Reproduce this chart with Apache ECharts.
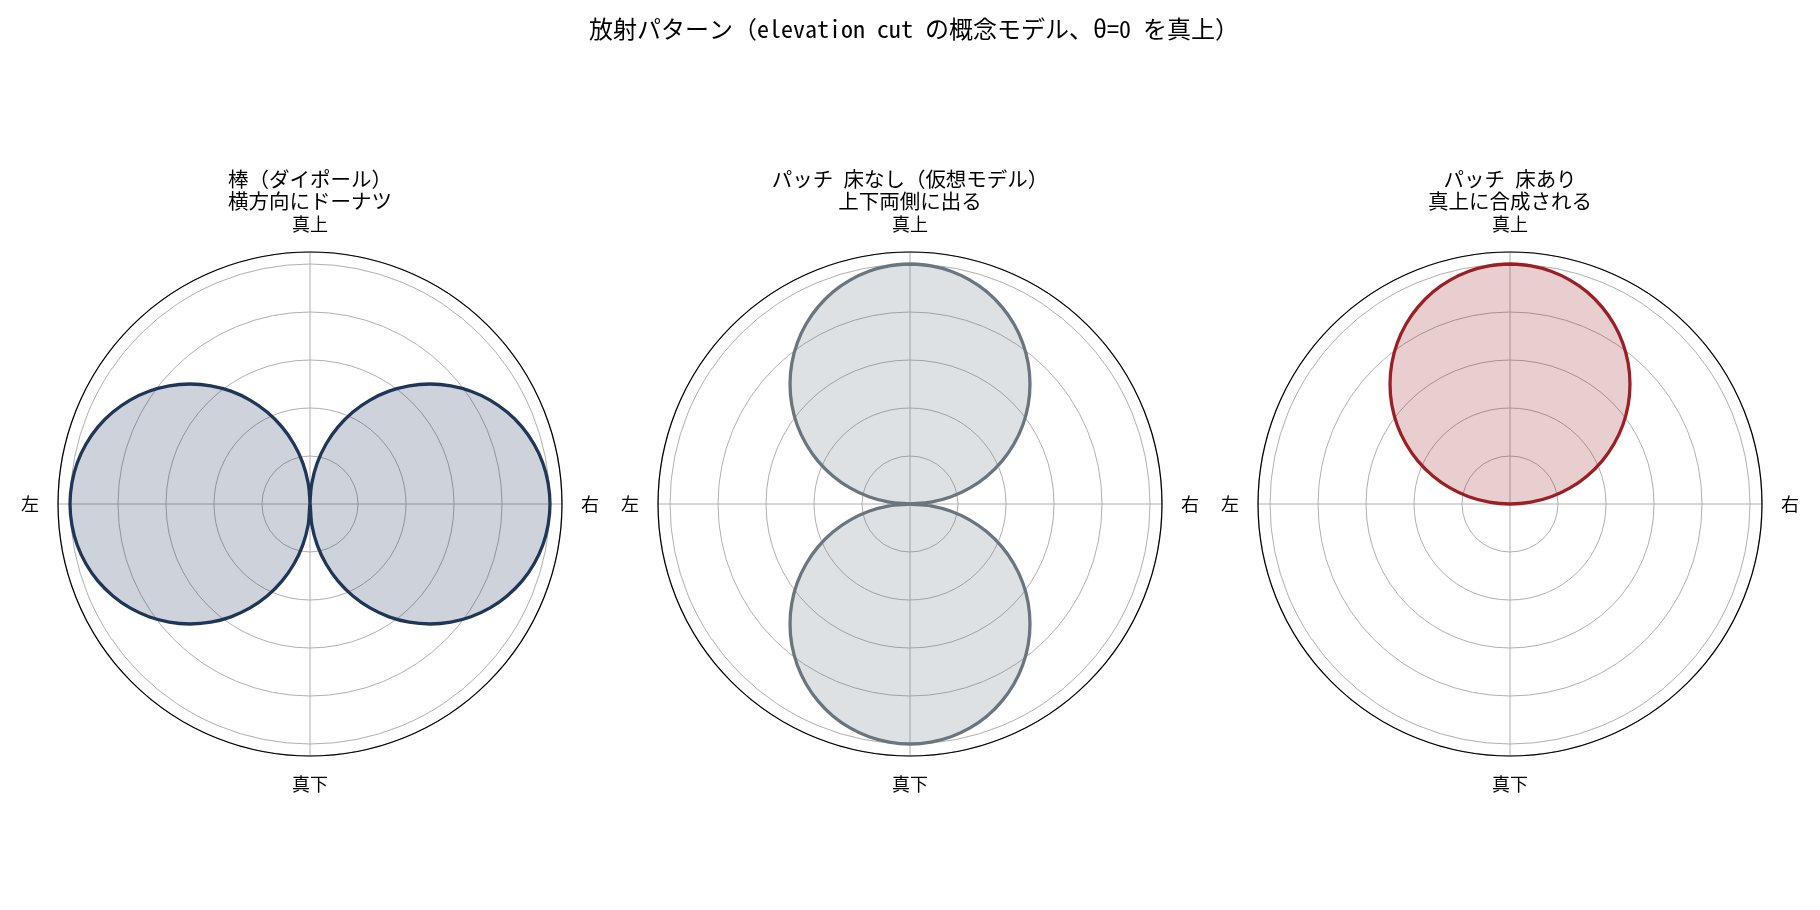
<!DOCTYPE html>
<html>
<head>
<meta charset="utf-8">
<script src="https://cdn.jsdelivr.net/npm/echarts@6/dist/echarts.min.js"></script>
<style>
html,body{margin:0;padding:0;background:#fff;}
#chart{width:1820px;height:910px;}
</style>
</head>
<body>
<div id="chart"></div>
<script>
// ---- data ----
const mainTitle = '放射パターン（elevation cut の概念モデル、θ=0 を真上）';
const panelTitles = [
  '棒（ダイポール）\n横方向にドーナツ',
  'パッチ 床なし（仮想モデル）\n上下両側に出る',
  'パッチ 床あり\n真上に合成される'
];
const angleTickValues = [0, 90, 180, 270];
const angleTickLabels = ['真上', '右', '真下', '左'];

// angles in degrees (θ=0 is straight up, clockwise)
const angles = [
  0,5,10,15,20,25,30,35,40,45,50,55,60,65,70,75,80,85,90,
  95,100,105,110,115,120,125,130,135,140,145,150,155,160,165,170,175,180,
  185,190,195,200,205,210,215,220,225,230,235,240,245,250,255,260,265,270,
  275,280,285,290,295,300,305,310,315,320,325,330,335,340,345,350,355,360
];
// relative gain (radius) per angle
const dipole = [
  0,.087,.174,.259,.342,.423,.5,.574,.643,.707,.766,.819,.866,.906,.94,.966,.985,.996,1,
  .996,.985,.966,.94,.906,.866,.819,.766,.707,.643,.574,.5,.423,.342,.259,.174,.087,0,
  .087,.174,.259,.342,.423,.5,.574,.643,.707,.766,.819,.866,.906,.94,.966,.985,.996,1,
  .996,.985,.966,.94,.906,.866,.819,.766,.707,.643,.574,.5,.423,.342,.259,.174,.087,0
];
const patchNoFloor = [
  1,.996,.985,.966,.94,.906,.866,.819,.766,.707,.643,.574,.5,.423,.342,.259,.174,.087,0,
  .087,.174,.259,.342,.423,.5,.574,.643,.707,.766,.819,.866,.906,.94,.966,.985,.996,1,
  .996,.985,.966,.94,.906,.866,.819,.766,.707,.643,.574,.5,.423,.342,.259,.174,.087,0,
  .087,.174,.259,.342,.423,.5,.574,.643,.707,.766,.819,.866,.906,.94,.966,.985,.996,1
];
const patchWithFloor = [
  1,.996,.985,.966,.94,.906,.866,.819,.766,.707,.643,.574,.5,.423,.342,.259,.174,.087,0,
  0,0,0,0,0,0,0,0,0,0,0,0,0,0,0,0,0,0,
  0,0,0,0,0,0,0,0,0,0,0,0,0,0,0,0,0,0,
  .087,.174,.259,.342,.423,.5,.574,.643,.707,.766,.819,.866,.906,.94,.966,.985,.996,1
];
const seriesValues = [dipole, patchNoFloor, patchWithFloor];

// ---- styles ----
const FONT = '"Noto Sans Mono CJK JP", "Noto Sans CJK JP", "DejaVu Sans Mono", sans-serif';
const lineColors = ['#1f3659', '#6b757e', '#9c1f25'];
const fillColors = ['rgba(31,54,89,0.22)', 'rgba(107,117,126,0.22)', 'rgba(156,31,37,0.22)'];
const centersX = [310, 910, 1510];
const centerY = 504;
const radius = 252;

const chart = echarts.init(document.getElementById('chart'));

const polar = [], angleAxis = [], radiusAxis = [], series = [], graphic = [];

graphic.push({
  type: 'text', x: 914, y: 29,
  style: { text: mainTitle, font: '24px ' + FONT, fill: '#000', align: 'center', verticalAlign: 'middle' }
});

for (let i = 0; i < 3; i++) {
  polar.push({ center: [centersX[i], centerY], radius: radius });
  angleAxis.push({
    polarIndex: i, type: 'value', min: 0, max: 360, interval: 90,
    startAngle: 90, clockwise: true,
    axisLine: { show: true, lineStyle: { color: '#000', width: 1.2 } },
    axisTick: { show: false },
    axisLabel: {
      show: true, margin: 19, fontSize: 18, color: '#000', fontFamily: FONT,
      formatter: function (v) {
        const k = angleTickValues.indexOf(v);
        return k >= 0 ? angleTickLabels[k] : '';
      }
    },
    splitLine: { show: true, lineStyle: { color: '#b0b0b0', width: 1 } }
  });
  radiusAxis.push({
    polarIndex: i, type: 'value', min: 0, max: 1.05, interval: 0.2,
    axisLine: { show: false }, axisTick: { show: false }, axisLabel: { show: false },
    splitLine: { show: true, lineStyle: { color: '#b0b0b0', width: 1 } }
  });
  series.push({
    type: 'line', coordinateSystem: 'polar', polarIndex: i,
    data: angles.map((a, j) => [seriesValues[i][j], a]),
    symbol: 'none', smooth: 0.35, clip: false, z: 5,
    lineStyle: { color: lineColors[i], width: 3.3 },
    areaStyle: { color: fillColors[i], opacity: 1, origin: 'start' }
  });
  graphic.push({
    type: 'text', x: centersX[i], y: 190,
    style: { text: panelTitles[i], font: '20.5px ' + FONT, fill: '#000', align: 'center', verticalAlign: 'middle', lineHeight: 22 }
  });
}

chart.setOption({
  backgroundColor: '#fff',
  animation: false,
  polar, angleAxis, radiusAxis, series, graphic
});
</script>
</body>
</html>
